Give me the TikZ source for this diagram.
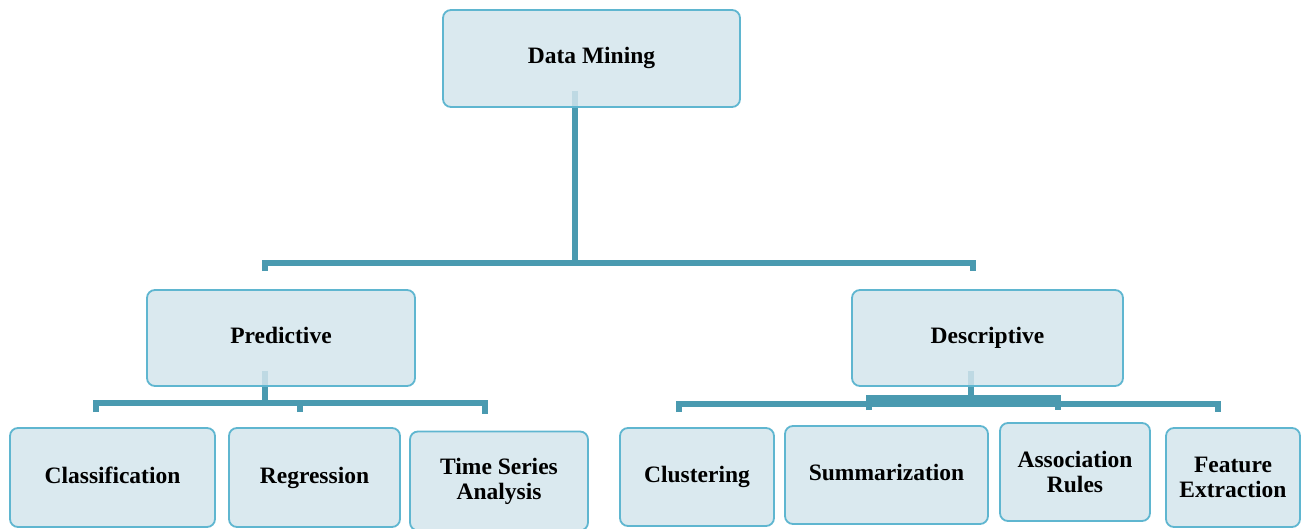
\documentclass[tikz,border=0pt]{standalone}
\usepackage{fontspec}
\setmainfont{Liberation Serif}
\usetikzlibrary{calc}
\pgfdeclarelayer{background}
\pgfsetlayers{background,main}
\definecolor{boxfill}{HTML}{D3E5EC}
\definecolor{boxedge}{HTML}{5FB6D0}
\definecolor{linkcol}{HTML}{4A9AB0}
\tikzset{
  box/.style={draw=boxedge, line width=1.8pt, fill=boxfill, fill opacity=0.85, text opacity=1,
    rounded corners=8pt, align=center, inner sep=2pt,
    font=\fontsize{23.5}{25}\selectfont\bfseries},
  oneline/.style={text height=16pt, text depth=5pt},
  conn/.style={draw=linkcol, line width=6pt, line join=miter}
}
\begin{document}
\begin{tikzpicture}[x=1pt,y=-1pt]
\useasboundingbox (0,0) rectangle (1301,529);
% boxes
\begin{scope}[every node/.style={box}]
\node[oneline, minimum width=297pt, minimum height=97pt] (dm) at (591.5,58.5) {Data Mining};
\node[oneline, minimum width=268pt, minimum height=96pt] (pr) at (281,338) {Predictive};
\node[oneline, minimum width=271pt, minimum height=96pt] (de) at (987.5,338) {Descriptive};
\node[oneline, minimum width=205pt, minimum height=99pt] (cl) at (112.5,477.5) {Classification};
\node[oneline, minimum width=171pt, minimum height=99pt] (rg) at (314.5,477.5) {Regression};
\node[minimum width=178pt, minimum height=99pt] (ts) at (499,481) {Time Series\\Analysis};
\node[oneline, minimum width=154pt, minimum height=98pt] (cu) at (697,477) {Clustering};
\node[oneline, minimum width=203pt, minimum height=98pt] (su) at (886.5,475) {Summarization};
\node[minimum width=150pt, minimum height=98pt] (as) at (1075,472) {Association\\Rules};
\node[minimum width=134pt, minimum height=99pt] (fe) at (1233,477.5) {Feature\\Extraction};
\end{scope}
% connectors, drawn beneath the boxes
\begin{pgfonlayer}{background}
% root to the two branches
\draw[conn] ($(dm.south)+(-17,-17)$) -- ++(0,172) coordinate (j1);
\draw[conn] ($(pr.north)+(-16,-18)$) |- (j1) -| ($(de.north)+(-15,-18)$);
% predictive branch
\draw[conn] ($(pr.south)+(-16,-16)$) -- ++(0,32) coordinate (j2);
\draw[conn] ($(cl.north)+(-17,-15)$) |- (j2) -| ($(ts.north)+(-14,-17)$);
\draw[conn] ($(rg.north)+(-15,-15)$) -- ($(rg.north)+(-15,-26)$);
% descriptive branch
\draw[conn] ($(de.south)+(-17,-16)$) -- ++(0,33) coordinate (j3);
\draw[conn] ($(cu.north)+(-18,-15)$) |- (j3) -| ($(fe.north)+(-15,-15)$);
\draw[conn] ($(su.north)+(-18,-15)$) |- ($(de.south)+(-17,11)$) -| ($(as.north)+(-17,-12)$);
\end{pgfonlayer}
\end{tikzpicture}
\end{document}
